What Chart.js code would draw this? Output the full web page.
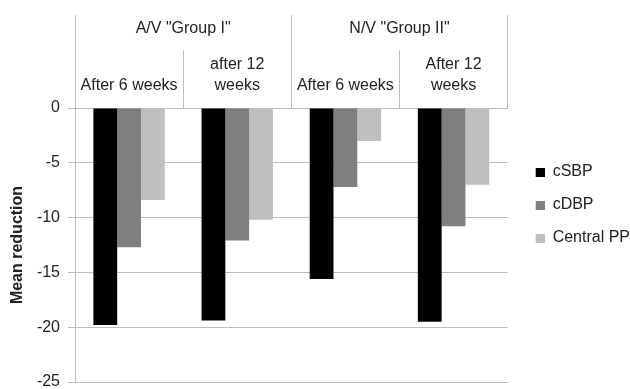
<!DOCTYPE html>
<html>
<head>
<meta charset="utf-8">
<script src="https://cdn.jsdelivr.net/npm/chart.js@4.4.1/dist/chart.umd.min.js"></script>
<style>
html, body { margin: 0; padding: 0; background: #fff; }
#wrap { width: 630px; height: 389px; }
</style>
</head>
<body>
<div id="wrap"><canvas id="myChart" width="630" height="389"></canvas></div>
<script>
// header rows: periods sit under the two groups
const periods = [['After 6 weeks'], ['after 12', 'weeks'], ['After 6 weeks'], ['After 12', 'weeks']];
const groups = ['A/V "Group I"', 'N/V "Group II"'];
const yTicks = [0, -5, -10, -15, -20, -25];

// mean reduction per period
const cSBP = [-19.8, -19.4, -15.6, -19.5];
const cDBP = [-12.7, -12.1, -7.2, -10.8];
const centralPP = [-8.4, -10.2, -3.0, -7.0];

const gridCol = '#bcbcbc';

Chart.defaults.font.family = '"Liberation Sans", Arial, sans-serif';
Chart.defaults.font.size = 16;
Chart.defaults.color = '#222';

// legend key: small square pushed to the right of a wider slot
function keyIcon(col) {
    var c = document.createElement('canvas');
    c.width = 20; c.height = 9;
    var g = c.getContext('2d');
    g.fillStyle = col;
    g.fillRect(11, 0, 9, 9);
    return c;
}

var chart = new Chart(document.getElementById('myChart').getContext('2d'), {
    type: 'bar',
    data: {
        labels: periods,
        datasets: [
            { label: 'cSBP', data: cSBP, backgroundColor: '#000000' },
            { label: 'cDBP', data: cDBP, backgroundColor: '#7f7f7f' },
            { label: 'Central PP', data: centralPP, backgroundColor: '#bfbfbf' }
        ]
    },
    options: {
        responsive: false,
        animation: false,
        devicePixelRatio: 1,
        layout: { padding: { top: 15, right: -10, bottom: -6, left: 0 } },
        datasets: { bar: { barPercentage: 1, categoryPercentage: 0.66, borderWidth: 0 } },
        plugins: {
            legend: {
                position: 'right',
                labels: {
                    usePointStyle: true, pointStyleWidth: 20, boxHeight: 9, padding: 17,
                    font: { size: 16 },
                    generateLabels: c => Chart.defaults.plugins.legend.labels.generateLabels(c).map(it => {
                        it.pointStyle = keyIcon(it.fillStyle);
                        return it;
                    })
                }
            },
            tooltip: { enabled: false }
        },
        scales: {
            x: {
                position: 'top',
                weight: 0,
                grid: { offset: true, drawOnChartArea: false, tickLength: 58, color: gridCol },
                border: { color: gridCol },
                ticks: { maxRotation: 0, autoSkip: false, padding: -46.8, font: { size: 16, lineHeight: 1.35 } },
                afterFit: s => { s.height = 58; }
            },
            grp: {
                type: 'category',
                labels: groups,
                position: 'top',
                weight: 1,
                offset: true,
                grid: { offset: true, drawOnChartArea: false, tickLength: 35, color: gridCol },
                border: { display: false },
                ticks: { maxRotation: 0, autoSkip: false, padding: -23.6 },
                afterFit: s => { s.height = 35; }
            },
            y: {
                min: yTicks[yTicks.length - 1],
                max: yTicks[0],
                ticks: { stepSize: 5, padding: 8, font: { size: 16, lineHeight: 1 } },
                grid: { color: gridCol, tickLength: 7 },
                border: { color: gridCol },
                title: {
                    display: true, text: 'Mean reduction',
                    font: { size: 16, weight: 'bold' },
                    padding: { top: 8, bottom: 0 }
                },
                afterFit: s => {
                    s.width = 75;
                    s.paddingTop = 0;
                    s.paddingBottom = 7;
                }
            }
        }
    }
});
</script>
</body>
</html>
